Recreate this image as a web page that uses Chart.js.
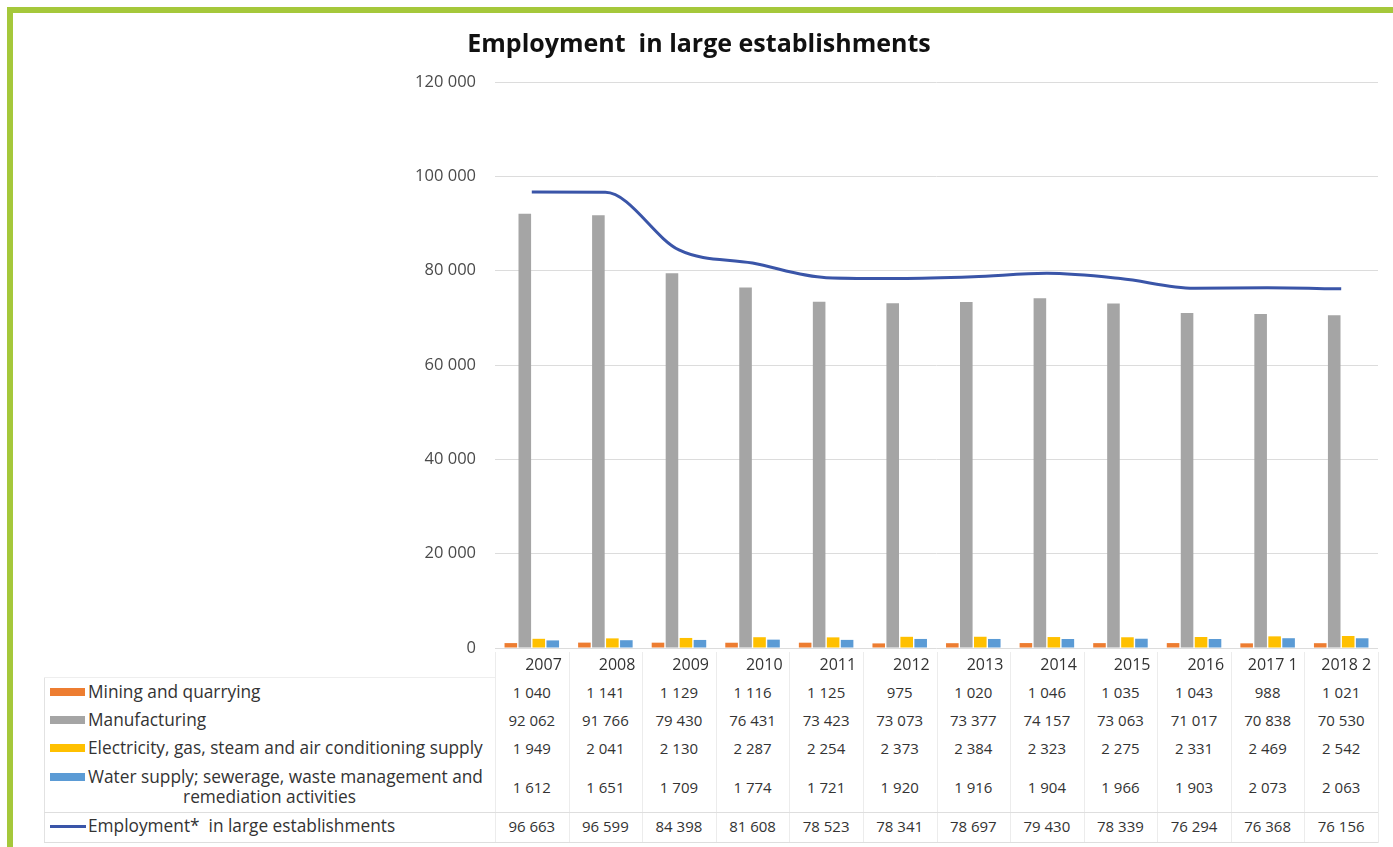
<!DOCTYPE html>
<html>
<head>
<meta charset="utf-8">
<script src="https://cdn.jsdelivr.net/npm/chart.js@4.4.0/dist/chart.umd.min.js"></script>
<style>
body { margin: 0; background: #fff; width: 1393px; height: 847px; overflow: hidden; position: relative; font-family: 'Open Sans', Lato, sans-serif; }
.frame { position: absolute; background: #a5c83b; }
#chartBox { position: absolute; left: 0; top: 0; width: 1393px; height: 678px; }
.cell { position: absolute; height: 20px; line-height: 20px; font-size: 15px; color: #333; white-space: nowrap; text-align: center; }
.label { position: absolute; font-size: 17.3px; line-height: 20px; color: #333; white-space: pre; }
.swatch { position: absolute; }
.vline { position: absolute; width: 1px; background: #ececec; }
.hline { position: absolute; height: 1px; background: #dedede; }
</style>
</head>
<body>
<div class="frame" style="left:7px;top:7px;width:1386px;height:6px"></div>
<div class="frame" style="left:7px;top:7px;width:6px;height:840px"></div>
<div id="chartBox"><canvas id="chart" width="1393" height="678"></canvas></div>
<div id="table"></div>
<script>
const years = ['2007', '2008', '2009', '2010', '2011', '2012', '2013', '2014', '2015', '2016', '2017 1', '2018 2']
const mining = [1040, 1141, 1129, 1116, 1125, 975, 1020, 1046, 1035, 1043, 988, 1021]
const manufacturing = [92062, 91766, 79430, 76431, 73423, 73073, 73377, 74157, 73063, 71017, 70838, 70530]
const electricity = [1949, 2041, 2130, 2287, 2254, 2373, 2384, 2323, 2275, 2331, 2469, 2542]
const water = [1612, 1651, 1709, 1774, 1721, 1920, 1916, 1904, 1966, 1903, 2073, 2063]
const employment = [96663, 96599, 84398, 81608, 78523, 78341, 78697, 79430, 78339, 76294, 76368, 76156]

const seriesNames = [
	'Mining and quarrying',
	'Manufacturing',
	'Electricity, gas, steam and air conditioning supply',
	'Water supply; sewerage, waste management and remediation activities',
	'Employment*  in large establishments'
]
const yTicks = [0, 20000, 40000, 60000, 80000, 100000, 120000]

const colors = ['#ed7d31', '#a5a5a5', '#ffc000', '#5b9bd5', '#3a55a8']

function fmt(v) {
	return String(v).replace(/\B(?=(\d{3})+(?!\d))/g, ' ')
}

const chart = new Chart(document.getElementById('chart'), {
	type: 'bar',
	data: {
		labels: years,
		datasets: [
			{ type: 'line', label: seriesNames[4], data: employment, borderColor: colors[4], borderWidth: 3, pointRadius: 0, cubicInterpolationMode: 'monotone', order: 0 },
			{ label: seriesNames[0], data: mining, backgroundColor: colors[0], order: 1 },
			{ label: seriesNames[1], data: manufacturing, backgroundColor: colors[1], order: 1 },
			{ label: seriesNames[2], data: electricity, backgroundColor: colors[2], order: 1 },
			{ label: seriesNames[3], data: water, backgroundColor: colors[3], order: 1 }
		]
	},
	options: {
		responsive: false,
		animation: false,
		categoryPercentage: 0.76,
		barPercentage: 0.9,
		layout: { padding: { left: 20, right: 15, top: 0, bottom: 0 } },
		plugins: {
			legend: { display: false },
			tooltip: { enabled: false },
			title: {
				display: true,
				text: 'Employment  in large establishments',
				color: '#111',
				font: { family: 'Open Sans', size: 25, weight: 'bold' },
				padding: { top: 30, bottom: 22 }
			}
		},
		scales: {
			x: {
				grid: { display: false },
				border: { display: false },
				ticks: { color: '#333', font: { family: 'Open Sans', size: 16 }, align: 'end', labelOffset: 30, padding: 0, maxRotation: 0, autoSkip: false },
				afterFit: (scale) => { scale.height = 30 }
			},
			y: {
				min: 0,
				max: 120000,
				afterBuildTicks: (scale) => { scale.ticks = yTicks.map(v => ({ value: v })) },
				grid: { color: '#dcdcdc', drawTicks: false },
				border: { display: false },
				ticks: { color: '#4a4a4a', font: { family: 'Open Sans', size: 16.5 }, padding: 19, callback: (v) => fmt(v) },
				afterFit: (scale) => { scale.width = 475 }
			}
		}
	}
})

// data table under the chart, columns taken from the x scale
const xs = chart.scales.x
const colW = xs.getPixelForValue(1) - xs.getPixelForValue(0)
const rowCenters = [692, 720, 748, 787, 826]
const rowValues = [mining, manufacturing, electricity, water, employment]
const table = document.getElementById('table')
let html = ''

rowValues.forEach((values, r) => {
	const cy = rowCenters[r]
	values.forEach((v, i) => {
		const cx = xs.getPixelForValue(i)
		html += `<div class="cell" style="left:${cx - colW / 2}px;width:${colW}px;top:${cy - 10}px">${fmt(v)}</div>`
	})
	if (r < 4) {
		html += `<div class="swatch" style="left:50px;top:${(r === 3 ? cy - 10 : cy) - 4}px;width:35px;height:8px;background:${colors[r]}"></div>`
	} else {
		html += `<div class="swatch" style="left:50px;top:${cy - 1}px;width:36px;height:3px;background:${colors[r]}"></div>`
	}
	if (r === 3) {
		html += `<div class="label" style="left:88px;top:${cy - 20}px">Water supply; sewerage, waste management and</div>`
		html += `<div class="label" style="left:44px;width:451px;top:${cy}px;text-align:center">remediation activities</div>`
	} else {
		html += `<div class="label" style="left:88px;top:${cy - 10}px">${seriesNames[r]}</div>`
	}
})

// faint table borders
for (let i = 0; i <= years.length; i++) {
	const x = Math.round(xs.getPixelForValue(0) - colW / 2 + i * colW)
	html += `<div class="vline" style="left:${x}px;top:652px;height:191px"></div>`
}
html += `<div class="vline" style="left:44px;top:677px;height:166px;background:#e2e2e2"></div>`
html += `<div class="hline" style="left:44px;top:677px;width:451px;background:#eeeeee"></div>`
html += `<div class="hline" style="left:44px;top:812px;width:${chart.chartArea.right - 44}px"></div>`
html += `<div class="hline" style="left:44px;top:842px;width:${chart.chartArea.right - 44}px"></div>`
table.innerHTML = html
</script>
</body>
</html>
